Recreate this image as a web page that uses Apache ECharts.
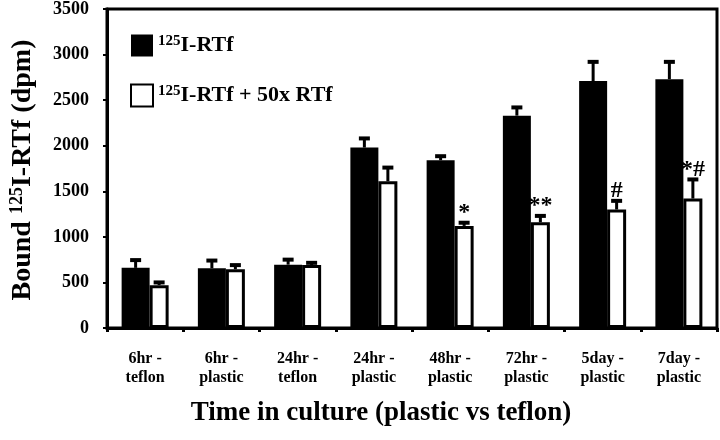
<!DOCTYPE html>
<html>
<head>
<meta charset="utf-8">
<script src="https://cdn.jsdelivr.net/npm/echarts@6/dist/echarts.min.js"></script>
<style>
  html, body { margin: 0; padding: 0; background: #fff; }
  #chart { width: 720px; height: 440px; }
</style>
</head>
<body>
<div id="chart"></div>
<script>
const categories = ['6hr -\nteflon', '6hr -\nplastic', '24hr -\nteflon', '24hr -\nplastic', '48hr -\nplastic', '72hr -\nplastic', '5day -\nplastic', '7day -\nplastic'];
const rtf = [660, 655, 695, 1980, 1840, 2330, 2710, 2730];
const rtfErr = [85, 85, 55, 100, 45, 90, 210, 190];
const comp = [470, 645, 690, 1610, 1120, 1160, 1300, 1420];
const compErr = [30, 45, 25, 150, 35, 70, 95, 210];
const annotations = ['', '', '', '', '*', '**', '#', '*#'];
const yTicks = [0, 500, 1000, 1500, 2000, 2500, 3000, 3500];

const FONT = '"Liberation Serif", "Times New Roman", serif';
const BW_BLACK = 28, BW_WHITE = 19;
const total = BW_BLACK + BW_WHITE;
const offBlack = -total / 2 + BW_BLACK / 2;
const offWhite = -total / 2 + BW_BLACK + BW_WHITE / 2;

const errData = [];
rtf.forEach((v, i) => errData.push([i, v, rtfErr[i], '', 0]));
comp.forEach((v, i) => errData.push([i, v, compErr[i], annotations[i], 1]));

const chart = echarts.init(document.getElementById('chart'));
chart.setOption({
  animation: false,
  backgroundColor: '#fff',
  grid: { left: 107, right: 3, top: 6, bottom: 112, show: true, borderColor: '#000', borderWidth: 3 },
  legend: {
    orient: 'vertical', left: 130, top: 34, padding: 0, itemWidth: 22, itemHeight: 22, itemGap: 27,
    icon: 'rect',
    data: ['rtf', 'comp'],
    formatter: function (name) {
      return name === 'rtf' ? '{s|125}{t|I-RTf}' : '{s|125}{t|I-RTf + 50x RTf}';
    },
    textStyle: {
      rich: {
        s: { fontFamily: FONT, fontWeight: 'bold', fontSize: 15, color: '#000', verticalAlign: 'top', padding: [0, 0, 8, 0] },
        t: { fontFamily: FONT, fontWeight: 'bold', fontSize: 22, color: '#000' }
      }
    }
  },
  xAxis: {
    type: 'category', data: categories,
    axisLine: { lineStyle: { color: '#000', width: 3 } },
    axisTick: { show: true, length: 4, lineStyle: { color: '#000', width: 3 } },
    axisLabel: { interval: 0, margin: 21, fontFamily: FONT, fontWeight: 'bold', fontSize: 16, lineHeight: 19, color: '#000' }
  },
  yAxis: {
    type: 'value', min: 0, max: 3500, interval: 500,
    axisLine: { show: true, lineStyle: { color: '#000', width: 3 } },
    axisTick: { show: true, length: 4, lineStyle: { color: '#000', width: 2 } },
    splitLine: { show: false },
    axisLabel: { margin: 18, fontFamily: FONT, fontWeight: 'bold', fontSize: 18, color: '#000',
      formatter: function (v) { return yTicks.indexOf(v) >= 0 ? String(v) : ''; } }
  },
  graphic: [
    {
      type: 'text', x: 23, y: 170, rotation: Math.PI / 2,
      style: {
        text: '{a|Bound }{s|125}{a|I-RTf (dpm)}',
        align: 'center', verticalAlign: 'middle',
        rich: {
          a: { fontFamily: FONT, fontWeight: 'bold', fontSize: 28, fill: '#000' },
          s: { fontFamily: FONT, fontWeight: 'bold', fontSize: 18, fill: '#000', verticalAlign: 'top', padding: [0, 0, 12, 0] }
        }
      }
    },
    {
      type: 'text', x: 381, y: 413,
      style: { text: 'Time in culture (plastic vs teflon)', fontFamily: FONT, fontWeight: 'bold', fontSize: 27, fill: '#000', align: 'center', verticalAlign: 'middle' }
    }
  ],
  series: [
    { name: 'rtf', type: 'bar', data: rtf, barWidth: BW_BLACK, barGap: '0%',
      itemStyle: { color: '#000' } },
    { name: 'comp', type: 'bar', data: comp, barWidth: BW_WHITE, barGap: '0%',
      itemStyle: { color: '#fff', borderColor: '#000', borderWidth: 3 } },
    {
      type: 'custom', data: errData, z: 5,
      renderItem: function (params, api) {
        const idx = api.value(0), v = api.value(1), e = api.value(2), s = api.value(4);
        const ann = errData[params.dataIndex][3];
        const p0 = api.coord([idx, v]);
        const p1 = api.coord([idx, v + e]);
        const x = p0[0] + (s === 0 ? offBlack : offWhite);
        const children = [
          { type: 'line', shape: { x1: x, y1: p0[1], x2: x, y2: p1[1] }, style: { stroke: '#000', lineWidth: 3 } },
          { type: 'line', shape: { x1: x - 5.5, y1: p1[1], x2: x + 5.5, y2: p1[1] }, style: { stroke: '#000', lineWidth: 4 } }
        ];
        if (ann) {
          children.push({ type: 'text', x: x, y: p1[1] + 2,
            style: { text: ann, fontFamily: FONT, fontWeight: 'bold', fontSize: 24, fill: '#000', align: 'center', verticalAlign: 'bottom' } });
        }
        return { type: 'group', children: children };
      }
    }
  ]
});
</script>
</body>
</html>
